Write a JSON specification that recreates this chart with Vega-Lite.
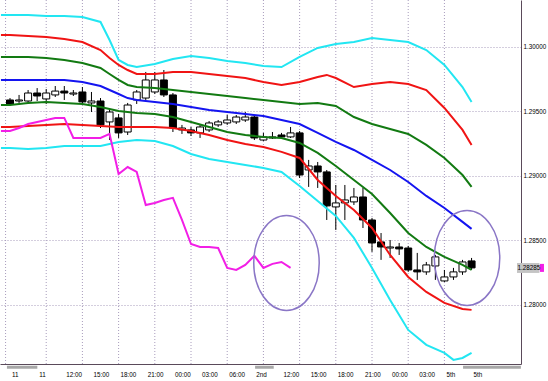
{
  "$schema": "https://vega.github.io/schema/vega-lite/v6.json",
  "width": 521,
  "height": 364,
  "autosize": {"type": "none"},
  "padding": {"left": 0, "top": 0, "right": 27, "bottom": 17},
  "background": "white",
  "config": {"view": {"stroke": null}, "font": "Liberation Sans, sans-serif", "axisX": {"labelOverlap": false, "labelFlush": false}, "axisY": {"labelOverlap": false, "labelFlush": false}},
  "datasets": {
    "vgrid": [{"k":-0.49},{"k":4},{"k":8},{"k":12},{"k":16},{"k":20},{"k":24},{"k":28},{"k":32},{"k":36},{"k":40},{"k":44},{"k":48}],
    "candles": [
      {"k":0,"o":1.29587,"c":1.29556,"h":1.29602,"l":1.29541},
      {"k":1,"o":1.29579,"c":1.29587,"h":1.29626,"l":1.29564},
      {"k":2,"o":1.29579,"c":1.29641,"h":1.29664,"l":1.29564},
      {"k":3,"o":1.29641,"c":1.29618,"h":1.29679,"l":1.29579},
      {"k":4,"o":1.29595,"c":1.29641,"h":1.29672,"l":1.29556},
      {"k":5,"o":1.29626,"c":1.29656,"h":1.29695,"l":1.29610},
      {"k":6,"o":1.29656,"c":1.29641,"h":1.29695,"l":1.29587},
      {"k":7,"o":1.29633,"c":1.29641,"h":1.29664,"l":1.29618},
      {"k":8,"o":1.29649,"c":1.29572,"h":1.29687,"l":1.29556},
      {"k":9,"o":1.29564,"c":1.29579,"h":1.29649,"l":1.29494},
      {"k":10,"o":1.29579,"c":1.29394,"h":1.29602,"l":1.29370},
      {"k":11,"o":1.29417,"c":1.29494,"h":1.29510,"l":1.29277},
      {"k":12,"o":1.29448,"c":1.29332,"h":1.29479,"l":1.29293},
      {"k":13,"o":1.29339,"c":1.29548,"h":1.29564,"l":1.29316},
      {"k":14,"o":1.29587,"c":1.29649,"h":1.29664,"l":1.29556},
      {"k":15,"o":1.29602,"c":1.29742,"h":1.29804,"l":1.29587},
      {"k":16,"o":1.29649,"c":1.29742,"h":1.29804,"l":1.29633},
      {"k":17,"o":1.29742,"c":1.29626,"h":1.29819,"l":1.29610},
      {"k":18,"o":1.29626,"c":1.29370,"h":1.29641,"l":1.29339},
      {"k":19,"o":1.29355,"c":1.29370,"h":1.29394,"l":1.29324},
      {"k":20,"o":1.29355,"c":1.29332,"h":1.29378,"l":1.29308},
      {"k":21,"o":1.29332,"c":1.29378,"h":1.29394,"l":1.29293},
      {"k":22,"o":1.29355,"c":1.29409,"h":1.29424,"l":1.29339},
      {"k":23,"o":1.29394,"c":1.29417,"h":1.29432,"l":1.29378},
      {"k":24,"o":1.29409,"c":1.29432,"h":1.29471,"l":1.29394},
      {"k":25,"o":1.29417,"c":1.29455,"h":1.29471,"l":1.29401},
      {"k":26,"o":1.29432,"c":1.29455,"h":1.29494,"l":1.29417},
      {"k":27,"o":1.29455,"c":1.29293,"h":1.29471,"l":1.29277},
      {"k":28,"o":1.29277,"c":1.29301,"h":1.29332,"l":1.29270},
      {"k":29,"o":1.29293,"c":1.29301,"h":1.29339,"l":1.29285},
      {"k":30,"o":1.29316,"c":1.29301,"h":1.29332,"l":1.29293},
      {"k":31,"o":1.29301,"c":1.29332,"h":1.29378,"l":1.29293},
      {"k":32,"o":1.29332,"c":1.29006,"h":1.29347,"l":1.28983},
      {"k":33,"o":1.29045,"c":1.29076,"h":1.29123,"l":1.28914},
      {"k":34,"o":1.29076,"c":1.29030,"h":1.29107,"l":1.28906},
      {"k":35,"o":1.29030,"c":1.28767,"h":1.29045,"l":1.28658},
      {"k":36,"o":1.28759,"c":1.28790,"h":1.28929,"l":1.28581},
      {"k":37,"o":1.28790,"c":1.28813,"h":1.28929,"l":1.28658},
      {"k":38,"o":1.28798,"c":1.28836,"h":1.28906,"l":1.28774},
      {"k":39,"o":1.28836,"c":1.28658,"h":1.28906,"l":1.28596},
      {"k":40,"o":1.28658,"c":1.28480,"h":1.28674,"l":1.28411},
      {"k":41,"o":1.28488,"c":1.28449,"h":1.28557,"l":1.28349},
      {"k":42,"o":1.28441,"c":1.28449,"h":1.28503,"l":1.28364},
      {"k":43,"o":1.28449,"c":1.28434,"h":1.28480,"l":1.28387},
      {"k":44,"o":1.28441,"c":1.28271,"h":1.28457,"l":1.28256},
      {"k":45,"o":1.28271,"c":1.28256,"h":1.28403,"l":1.28194},
      {"k":46,"o":1.28256,"c":1.28310,"h":1.28333,"l":1.28233},
      {"k":47,"o":1.28302,"c":1.28372,"h":1.28387,"l":1.28194},
      {"k":48,"o":1.28186,"c":1.28217,"h":1.28271,"l":1.28178},
      {"k":49,"o":1.28217,"c":1.28256,"h":1.28287,"l":1.28194},
      {"k":50,"o":1.28256,"c":1.28333,"h":1.28349,"l":1.28233},
      {"k":51,"o":1.28341,"c":1.28287,"h":1.28364,"l":1.28271}
    ],
    "bands": [
      {"k":-1,"s":"u3","p":1.30245},{"k":0,"s":"u3","p":1.30245},{"k":2,"s":"u3","p":1.30245},{"k":4,"s":"u3","p":1.30237},{"k":6,"s":"u3","p":1.30237},{"k":8,"s":"u3","p":1.30229},{"k":10,"s":"u3","p":1.30191},{"k":11,"s":"u3","p":1.30051},{"k":12,"s":"u3","p":1.29897},{"k":13,"s":"u3","p":1.29858},{"k":14,"s":"u3","p":1.29842},{"k":16,"s":"u3","p":1.29866},{"k":18,"s":"u3","p":1.29904},{"k":20,"s":"u3","p":1.29928},{"k":22,"s":"u3","p":1.29912},{"k":24,"s":"u3","p":1.29889},{"k":26,"s":"u3","p":1.29873},{"k":28,"s":"u3","p":1.29850},{"k":30,"s":"u3","p":1.29842},{"k":32,"s":"u3","p":1.29920},{"k":34,"s":"u3","p":1.29990},{"k":36,"s":"u3","p":1.30020},{"k":38,"s":"u3","p":1.30036},{"k":40,"s":"u3","p":1.30067},{"k":42,"s":"u3","p":1.30051},{"k":44,"s":"u3","p":1.30036},{"k":46,"s":"u3","p":1.29974},{"k":48,"s":"u3","p":1.29858},{"k":50,"s":"u3","p":1.29687},{"k":51,"s":"u3","p":1.29572},
      {"k":-1,"s":"u2","p":1.30090},{"k":0,"s":"u2","p":1.30090},{"k":2,"s":"u2","p":1.30082},{"k":4,"s":"u2","p":1.30075},{"k":6,"s":"u2","p":1.30059},{"k":8,"s":"u2","p":1.30036},{"k":10,"s":"u2","p":1.29974},{"k":11,"s":"u2","p":1.29912},{"k":12,"s":"u2","p":1.29858},{"k":13,"s":"u2","p":1.29819},{"k":14,"s":"u2","p":1.29788},{"k":16,"s":"u2","p":1.29788},{"k":18,"s":"u2","p":1.29804},{"k":20,"s":"u2","p":1.29804},{"k":22,"s":"u2","p":1.29788},{"k":24,"s":"u2","p":1.29773},{"k":26,"s":"u2","p":1.29757},{"k":28,"s":"u2","p":1.29726},{"k":30,"s":"u2","p":1.29703},{"k":32,"s":"u2","p":1.29726},{"k":34,"s":"u2","p":1.29765},{"k":35,"s":"u2","p":1.29781},{"k":36,"s":"u2","p":1.29757},{"k":38,"s":"u2","p":1.29687},{"k":40,"s":"u2","p":1.29711},{"k":42,"s":"u2","p":1.29726},{"k":44,"s":"u2","p":1.29711},{"k":46,"s":"u2","p":1.29664},{"k":48,"s":"u2","p":1.29525},{"k":50,"s":"u2","p":1.29355},{"k":51,"s":"u2","p":1.29239},
      {"k":-1,"s":"u1","p":1.29920},{"k":0,"s":"u1","p":1.29920},{"k":2,"s":"u1","p":1.29920},{"k":4,"s":"u1","p":1.29912},{"k":6,"s":"u1","p":1.29897},{"k":8,"s":"u1","p":1.29873},{"k":10,"s":"u1","p":1.29835},{"k":11,"s":"u1","p":1.29788},{"k":12,"s":"u1","p":1.29742},{"k":13,"s":"u1","p":1.29703},{"k":14,"s":"u1","p":1.29687},{"k":16,"s":"u1","p":1.29679},{"k":18,"s":"u1","p":1.29664},{"k":20,"s":"u1","p":1.29649},{"k":22,"s":"u1","p":1.29633},{"k":24,"s":"u1","p":1.29618},{"k":26,"s":"u1","p":1.29602},{"k":28,"s":"u1","p":1.29587},{"k":30,"s":"u1","p":1.29572},{"k":32,"s":"u1","p":1.29556},{"k":34,"s":"u1","p":1.29564},{"k":36,"s":"u1","p":1.29541},{"k":38,"s":"u1","p":1.29455},{"k":40,"s":"u1","p":1.29401},{"k":42,"s":"u1","p":1.29363},{"k":44,"s":"u1","p":1.29324},{"k":46,"s":"u1","p":1.29239},{"k":48,"s":"u1","p":1.29138},{"k":50,"s":"u1","p":1.29006},{"k":51,"s":"u1","p":1.28914},
      {"k":-1,"s":"m","p":1.29742},{"k":0,"s":"m","p":1.29742},{"k":2,"s":"m","p":1.29742},{"k":4,"s":"m","p":1.29742},{"k":6,"s":"m","p":1.29742},{"k":8,"s":"m","p":1.29726},{"k":10,"s":"m","p":1.29695},{"k":11,"s":"m","p":1.29664},{"k":12,"s":"m","p":1.29633},{"k":13,"s":"m","p":1.29602},{"k":14,"s":"m","p":1.29587},{"k":16,"s":"m","p":1.29572},{"k":18,"s":"m","p":1.29556},{"k":20,"s":"m","p":1.29533},{"k":22,"s":"m","p":1.29510},{"k":24,"s":"m","p":1.29494},{"k":26,"s":"m","p":1.29479},{"k":28,"s":"m","p":1.29463},{"k":30,"s":"m","p":1.29432},{"k":32,"s":"m","p":1.29401},{"k":34,"s":"m","p":1.29332},{"k":36,"s":"m","p":1.29262},{"k":38,"s":"m","p":1.29200},{"k":40,"s":"m","p":1.29123},{"k":42,"s":"m","p":1.29045},{"k":44,"s":"m","p":1.28952},{"k":46,"s":"m","p":1.28844},{"k":48,"s":"m","p":1.28751},{"k":50,"s":"m","p":1.28643},{"k":51,"s":"m","p":1.28589},
      {"k":-1,"s":"l1","p":1.29548},{"k":0,"s":"l1","p":1.29548},{"k":2,"s":"l1","p":1.29564},{"k":4,"s":"l1","p":1.29572},{"k":6,"s":"l1","p":1.29564},{"k":8,"s":"l1","p":1.29556},{"k":10,"s":"l1","p":1.29533},{"k":12,"s":"l1","p":1.29502},{"k":14,"s":"l1","p":1.29486},{"k":16,"s":"l1","p":1.29479},{"k":18,"s":"l1","p":1.29455},{"k":20,"s":"l1","p":1.29417},{"k":22,"s":"l1","p":1.29378},{"k":24,"s":"l1","p":1.29339},{"k":26,"s":"l1","p":1.29316},{"k":28,"s":"l1","p":1.29301},{"k":30,"s":"l1","p":1.29293},{"k":32,"s":"l1","p":1.29254},{"k":34,"s":"l1","p":1.29177},{"k":36,"s":"l1","p":1.29076},{"k":38,"s":"l1","p":1.28968},{"k":40,"s":"l1","p":1.28859},{"k":42,"s":"l1","p":1.28712},{"k":44,"s":"l1","p":1.28557},{"k":46,"s":"l1","p":1.28449},{"k":48,"s":"l1","p":1.28372},{"k":50,"s":"l1","p":1.28310},{"k":51,"s":"l1","p":1.28271},
      {"k":-1,"s":"l2","p":1.29378},{"k":0,"s":"l2","p":1.29378},{"k":2,"s":"l2","p":1.29386},{"k":4,"s":"l2","p":1.29394},{"k":6,"s":"l2","p":1.29401},{"k":8,"s":"l2","p":1.29394},{"k":10,"s":"l2","p":1.29386},{"k":12,"s":"l2","p":1.29378},{"k":14,"s":"l2","p":1.29378},{"k":16,"s":"l2","p":1.29378},{"k":18,"s":"l2","p":1.29370},{"k":20,"s":"l2","p":1.29347},{"k":22,"s":"l2","p":1.29316},{"k":24,"s":"l2","p":1.29277},{"k":26,"s":"l2","p":1.29246},{"k":28,"s":"l2","p":1.29223},{"k":30,"s":"l2","p":1.29185},{"k":32,"s":"l2","p":1.29138},{"k":34,"s":"l2","p":1.28968},{"k":36,"s":"l2","p":1.28844},{"k":38,"s":"l2","p":1.28735},{"k":40,"s":"l2","p":1.28596},{"k":42,"s":"l2","p":1.28387},{"k":44,"s":"l2","p":1.28217},{"k":46,"s":"l2","p":1.28101},{"k":48,"s":"l2","p":1.28016},{"k":50,"s":"l2","p":1.27969},{"k":51,"s":"l2","p":1.27962},
      {"k":-1,"s":"l3","p":1.29216},{"k":0,"s":"l3","p":1.29216},{"k":2,"s":"l3","p":1.29208},{"k":4,"s":"l3","p":1.29216},{"k":6,"s":"l3","p":1.29231},{"k":8,"s":"l3","p":1.29231},{"k":10,"s":"l3","p":1.29231},{"k":12,"s":"l3","p":1.29262},{"k":14,"s":"l3","p":1.29277},{"k":16,"s":"l3","p":1.29270},{"k":18,"s":"l3","p":1.29231},{"k":20,"s":"l3","p":1.29169},{"k":22,"s":"l3","p":1.29130},{"k":24,"s":"l3","p":1.29107},{"k":26,"s":"l3","p":1.29084},{"k":28,"s":"l3","p":1.29061},{"k":30,"s":"l3","p":1.29030},{"k":32,"s":"l3","p":1.28921},{"k":34,"s":"l3","p":1.28805},{"k":36,"s":"l3","p":1.28689},{"k":38,"s":"l3","p":1.28519},{"k":40,"s":"l3","p":1.28287},{"k":42,"s":"l3","p":1.28039},{"k":44,"s":"l3","p":1.27807},{"k":46,"s":"l3","p":1.27691},{"k":48,"s":"l3","p":1.27629},{"k":49,"s":"l3","p":1.27575},{"k":50,"s":"l3","p":1.27590},{"k":51,"s":"l3","p":1.27629}
    ],
    "lag": [
      {"k":-1,"p":1.29347},{"k":0,"p":1.29347},{"k":1,"p":1.29370},{"k":2,"p":1.29401},{"k":3,"p":1.29417},{"k":4,"p":1.29432},{"k":5,"p":1.29448},{"k":6,"p":1.29448},{"k":7,"p":1.29293},{"k":8,"p":1.29293},{"k":9,"p":1.29293},{"k":10,"p":1.29293},{"k":11,"p":1.29324},{"k":12,"p":1.29014},{"k":13,"p":1.29068},{"k":14,"p":1.29030},{"k":15,"p":1.28774},{"k":16,"p":1.28790},{"k":17,"p":1.28813},{"k":18,"p":1.28829},{"k":19,"p":1.28658},{"k":20,"p":1.28472},{"k":21,"p":1.28449},{"k":22,"p":1.28449},{"k":23,"p":1.28441},{"k":24,"p":1.28287},{"k":25,"p":1.28271},{"k":26,"p":1.28310},{"k":27,"p":1.28380},{"k":28,"p":1.28287},{"k":29,"p":1.28318},{"k":30,"p":1.28333},{"k":31,"p":1.28287}
    ],
    "notes": [{"k":30.55,"p":1.28325},{"k":50.5,"p":1.28364}],
    "last": [{"k":56.02,"k2":58.5,"p":1.28325,"p2":1.28248,"label":"1.28285","pc":1.28287}],
    "stub": [{"k":58.55,"k2":59.0,"p":1.28318,"p2":1.28256}],
    "seps": [{"k":-0.34,"k2":3.02},{"k":27.08,"k2":29.14},{"k":50.06,"k2":56.45}]
  },
  "layer": [
    {
      "data": {"name": "vgrid"},
      "mark": {"type": "rule", "color": "#a89cbc", "strokeDash": [1, 2], "strokeWidth": 1},
      "encoding": {
        "x": {"field": "k", "type": "quantitative", "scale": {"domain": [-0.553, 55.91], "nice": false, "zero": false},
          "axis": {"orient": "bottom", "values": [0,3,6,9,12,15,18,21,24,27,30,33,36,39,42,45,48,51], "tickCount": 100,
            "labelExpr": "['11','11','12:00','15:00','18:00','21:00','00:00','03:00','06:00','2nd','12:00','15:00','18:00','21:00','00:00','03:00','5th','5th'][round(datum.value/3)]",
            "grid": false, "ticks": false, "domain": true, "domainColor": "#5a4a5a", "domainWidth": 1,
            "labelAlign": "left", "labelBaseline": "top", "labelPadding": 7, "labelOffset": 1.5,
            "labelFontSize": 6.3, "labelColor": "#000000", "labelFlush": false, "labelOverlap": false, "title": null}}
      }
    },
    {
      "data": {"name": "candles"},
      "mark": {"type": "rule", "color": "#000000", "strokeWidth": 1},
      "encoding": {
        "x": {"field": "k", "type": "quantitative", "scale": {"domain": [-0.553, 55.91], "nice": false, "zero": false}},
        "y": {"field": "l", "type": "quantitative", "scale": {"domain": [1.27543, 1.30361], "nice": false, "zero": false},
          "axis": {"orient": "right", "values": [1.28, 1.285, 1.29, 1.295, 1.30], "tickCount": 100, "format": ".5f",
            "grid": true, "gridColor": "#a89cbc", "gridDash": [1, 2], "gridWidth": 1,
            "ticks": false, "domain": true, "domainColor": "#5a4a5a", "domainWidth": 1,
            "labelPadding": 2, "labelFontSize": 6.3, "labelAlign": "left", "labelBaseline": "middle",
            "labelColor": "#000000", "labelFlush": false, "labelOverlap": false, "title": null}},
        "y2": {"field": "h"}
      }
    },
    {
      "data": {"name": "candles"},
      "mark": {"type": "bar", "size": 7, "stroke": "#000000", "strokeWidth": 1},
      "encoding": {
        "x": {"field": "k", "type": "quantitative", "scale": {"domain": [-0.553, 55.91], "nice": false, "zero": false}},
        "y": {"field": "o", "type": "quantitative", "scale": {"domain": [1.27543, 1.30361], "nice": false, "zero": false}},
        "y2": {"field": "c"},
        "fill": {"condition": {"test": "datum.c < datum.o", "value": "#000000"}, "value": "#ffffff"}
      }
    },
    {
      "data": {"name": "bands"},
      "mark": {"type": "line", "strokeWidth": 2, "clip": true, "interpolate": "linear"},
      "encoding": {
        "x": {"field": "k", "type": "quantitative", "scale": {"domain": [-0.553, 55.91], "nice": false, "zero": false}},
        "y": {"field": "p", "type": "quantitative", "scale": {"domain": [1.27543, 1.30361], "nice": false, "zero": false}},
        "color": {"field": "s", "type": "nominal", "legend": null,
          "scale": {"domain": ["u3","u2","u1","m","l1","l2","l3"], "range": ["#22e6f2","#f01414","#127a12","#1414f0","#127a12","#f01414","#22e6f2"]}},
        "order": {"field": "k", "type": "quantitative"}
      }
    },
    {
      "data": {"name": "lag"},
      "mark": {"type": "line", "strokeWidth": 2, "clip": true, "color": "#f21ee6"},
      "encoding": {
        "x": {"field": "k", "type": "quantitative", "scale": {"domain": [-0.553, 55.91], "nice": false, "zero": false}},
        "y": {"field": "p", "type": "quantitative", "scale": {"domain": [1.27543, 1.30361], "nice": false, "zero": false}}
      }
    },
    {
      "data": {"name": "notes"},
      "mark": {"type": "point", "shape": "M -0.69 0 A 0.69 1 0 1 1 0.69 0 A 0.69 1 0 1 1 -0.69 0 Z", "filled": false, "size": 9000, "stroke": "#8a76c6", "strokeWidth": 1.5, "opacity": 1},
      "encoding": {
        "x": {"field": "k", "type": "quantitative", "scale": {"domain": [-0.553, 55.91], "nice": false, "zero": false}},
        "y": {"field": "p", "type": "quantitative", "scale": {"domain": [1.27543, 1.30361], "nice": false, "zero": false}}
      }
    },
    {
      "data": {"name": "last"},
      "mark": {"type": "rect", "color": "#c4c4c4"},
      "encoding": {
        "x": {"field": "k", "type": "quantitative", "scale": {"domain": [-0.553, 55.91], "nice": false, "zero": false}},
        "x2": {"field": "k2"},
        "y": {"field": "p", "type": "quantitative", "scale": {"domain": [1.27543, 1.30361], "nice": false, "zero": false}},
        "y2": {"field": "p2"}
      }
    },
    {
      "data": {"name": "stub"},
      "mark": {"type": "rect", "color": "#f21ee6"},
      "encoding": {
        "x": {"field": "k", "type": "quantitative", "scale": {"domain": [-0.553, 55.91], "nice": false, "zero": false}},
        "x2": {"field": "k2"},
        "y": {"field": "p", "type": "quantitative", "scale": {"domain": [1.27543, 1.30361], "nice": false, "zero": false}},
        "y2": {"field": "p2"}
      }
    },
    {
      "data": {"name": "last"},
      "mark": {"type": "text", "align": "left", "baseline": "middle", "fontSize": 6.3, "color": "#000000", "dx": 0.5},
      "encoding": {
        "x": {"field": "k", "type": "quantitative", "scale": {"domain": [-0.553, 55.91], "nice": false, "zero": false}},
        "y": {"field": "pc", "type": "quantitative", "scale": {"domain": [1.27543, 1.30361], "nice": false, "zero": false}},
        "text": {"field": "label"}
      }
    },
    {
      "data": {"name": "seps"},
      "mark": {"type": "rect", "color": "#a8a8a8"},
      "encoding": {
        "x": {"field": "k", "type": "quantitative", "scale": {"domain": [-0.553, 55.91], "nice": false, "zero": false}},
        "x2": {"field": "k2"},
        "y": {"datum": 1.27530, "type": "quantitative", "scale": {"domain": [1.27543, 1.30361], "nice": false, "zero": false}},
        "y2": {"datum": 1.27507}
      }
    }
  ]
}
